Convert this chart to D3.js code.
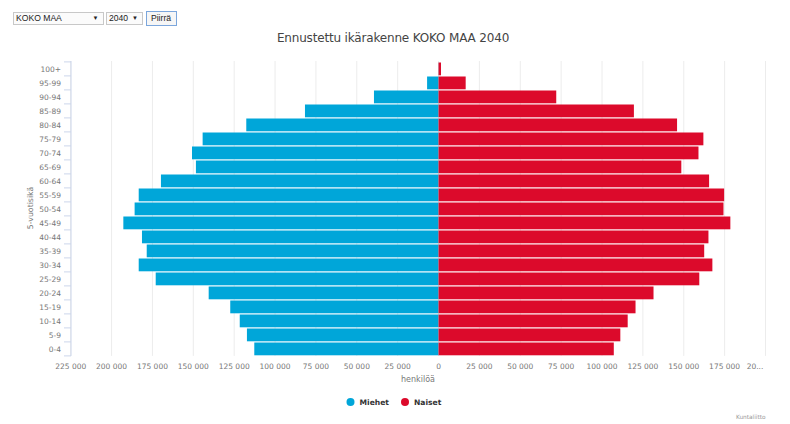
<!DOCTYPE html>
<html lang="fi">
<head>
  <meta charset="UTF-8">
  <title>Ennustettu ikärakenne</title>
  <script src="https://d3js.org/d3.v7.min.js"></script>
  <style>
    html, body { margin: 0; padding: 0; background: #fff; overflow: hidden; }
    #controls { position: absolute; left: 12px; top: 11px; height: 15px; font: 8.6px "Liberation Sans", sans-serif; color: #222; }
    #controls .sel { position: absolute; top: 1px; height: 13px; box-sizing: border-box; border: 1px solid #c8c8c8; background: #fbfbfb; line-height: 11px; padding-left: 2.5px; white-space: nowrap; }
    #controls .sel i { position: absolute; right: 4px; top: 0; font-style: normal; font-size: 6px; }
    #controls .btn { position: absolute; left: 133.5px; top: 0; width: 31px; height: 15px; box-sizing: border-box; border: 1px solid #7ba6dc; background: #f6f6f6; text-align: center; line-height: 13px; }
    svg { position: absolute; left: 0; top: 0; }
    text { font-family: "DejaVu Sans", sans-serif; }
  </style>
</head>
<body>
  <div id="controls">
    <div class="sel" style="left:0.5px;width:91px">KOKO MAA<i>▼</i></div>
    <div class="sel" style="left:93.5px;width:37.5px">2040<i>▼</i></div>
    <div class="btn">Piirrä</div>
  </div>
  <svg id="chart" width="790" height="424"></svg>

  <script>
    ((window, document) => {
      "use strict";

      // Data, youngest group last like the picture
      const ageGroups = ["100+", "95-99", "90-94", "85-89", "80-84", "75-79", "70-74", "65-69", "60-64", "55-59", "50-54", "45-49", "40-44", "35-39", "30-34", "25-29", "20-24", "15-19", "10-14", "5-9", "0-4"];
      const men = [100, 7000, 39500, 81700, 117600, 144300, 150800, 148400, 169800, 183400, 185900, 192800, 181400, 178500, 183400, 173000, 140600, 127400, 121600, 117200, 112700];
      const women = [1500, 16600, 72000, 119500, 145900, 162000, 159000, 148500, 165500, 174700, 174300, 178500, 165100, 162500, 167500, 159500, 131500, 120500, 115700, 111200, 107200];
      const xTicks = [-225000, -200000, -175000, -150000, -125000, -100000, -75000, -50000, -25000, 0, 25000, 50000, 75000, 100000, 125000, 150000, 175000, 200000];
      const seriesNames = ["Miehet", "Naiset"];
      const seriesColors = ["#00a6d9", "#dc0a2b"];

      const svg = d3.select("#chart");
      const x = d3.scaleLinear().domain([-225000, 200000]).range([70.7, 765.5]);
      const y = d3.scaleBand().domain(ageGroups).range([61.9, 355.9]);

      const fi = d3.formatLocale({ decimal: ",", thousands: " ", grouping: [3], currency: ["", "€"] });
      const fmt = fi.format(",");
      const tickLabel = d => d === 200000 ? "20..." : fmt(Math.abs(d));

      svg.append("text")
        .attr("x", 393).attr("y", 41.5)
        .attr("text-anchor", "middle")
        .attr("font-size", 12)
        .attr("letter-spacing", -0.17)
        .attr("fill", "#444")
        .text("Ennustettu ikärakenne KOKO MAA 2040");

      // Grid
      svg.append("g").selectAll("line").data(xTicks).join("line")
        .attr("x1", d => x(d)).attr("x2", d => x(d))
        .attr("y1", 61).attr("y2", 355.9)
        .attr("stroke", "#ececec");

      // Bars
      const barHeight = y.bandwidth() - 1.2;
      svg.append("g").selectAll("rect").data(ageGroups).join("rect")
        .attr("x", (d, i) => x(-men[i]))
        .attr("y", d => y(d) + 0.6)
        .attr("width", (d, i) => x(0) - x(-men[i]))
        .attr("height", barHeight)
        .attr("fill", seriesColors[0]);
      svg.append("g").selectAll("rect").data(ageGroups).join("rect")
        .attr("x", x(0))
        .attr("y", d => y(d) + 0.6)
        .attr("width", (d, i) => x(women[i]) - x(0))
        .attr("height", barHeight)
        .attr("fill", seriesColors[1]);

      // Y axis: ticks sit between the groups
      const yAxis = svg.append("g");
      yAxis.append("line")
        .attr("x1", 71).attr("x2", 71).attr("y1", 61).attr("y2", 355.9)
        .attr("stroke", "#ccd6eb");
      yAxis.selectAll("line.tick").data(ageGroups).join("line")
        .attr("class", "tick")
        .attr("x1", 64).attr("x2", 71)
        .attr("y1", d => y(d)).attr("y2", d => y(d))
        .attr("stroke", "#ccd6eb");
      yAxis.append("line")
        .attr("x1", 64).attr("x2", 71).attr("y1", 355.9).attr("y2", 355.9)
        .attr("stroke", "#ccd6eb");
      yAxis.selectAll("text").data(ageGroups).join("text")
        .attr("x", 61)
        .attr("y", d => y(d) + y.bandwidth() / 2 + 2.6)
        .attr("text-anchor", "end")
        .attr("font-size", 7.5)
        .attr("fill", "#777")
        .text(d => d);

      svg.append("text")
        .attr("transform", "translate(33,208) rotate(-90)")
        .attr("text-anchor", "middle")
        .attr("font-size", 7.8)
        .attr("fill", "#777")
        .text("5-vuotisikä");

      // X axis labels
      svg.append("g").selectAll("text").data(xTicks).join("text")
        .attr("x", d => d === 200000 ? 755 : x(d))
        .attr("y", 368.5)
        .attr("text-anchor", "middle")
        .attr("font-size", 7.5)
        .attr("fill", "#777")
        .text(tickLabel);

      svg.append("text")
        .attr("x", 418).attr("y", 381.7)
        .attr("text-anchor", "middle")
        .attr("font-size", 8)
        .attr("fill", "#777")
        .text("henkilöä");

      // Legend
      const legend = svg.append("g").selectAll("g").data(seriesNames).join("g")
        .attr("transform", (d, i) => `translate(${[350.5, 405][i]},402)`);
      legend.append("circle")
        .attr("r", 4)
        .attr("fill", (d, i) => seriesColors[i]);
      legend.append("text")
        .attr("x", 9).attr("y", 3)
        .attr("font-size", 7.6)
        .attr("font-weight", "bold")
        .attr("fill", "#333")
        .text(d => d);

      svg.append("text")
        .attr("x", 765.5).attr("y", 418.8)
        .attr("text-anchor", "end")
        .attr("font-size", 5.8)
        .attr("fill", "#999")
        .text("Kuntaliitto");

    })(window, document);
  </script>
</body>
</html>
